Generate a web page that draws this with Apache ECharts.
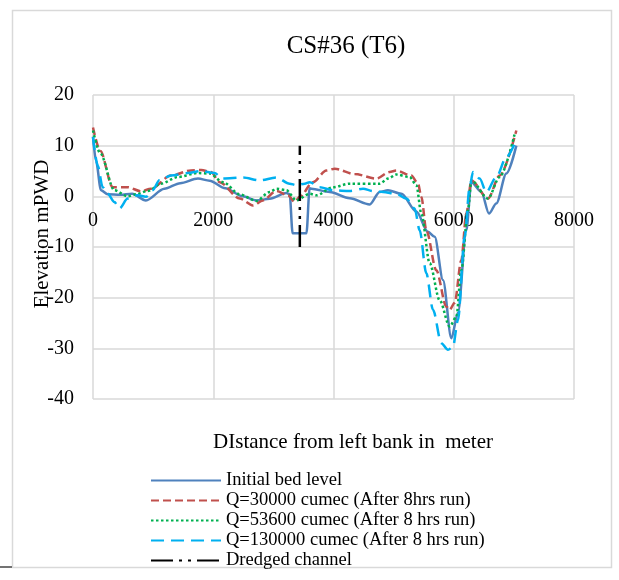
<!DOCTYPE html>
<html>
<head>
<meta charset="utf-8">
<script src="https://cdn.jsdelivr.net/npm/echarts@6/dist/echarts.min.js"></script>
<style>html,body{margin:0;padding:0;background:#fff}#c{width:619px;height:580px}</style>
</head>
<body>
<div id="c"></div>
<script>
var seriesNames = ['Initial bed level','Q=30000 cumec (After 8hrs run)','Q=53600 cumec (After 8 hrs run)','Q=130000 cumec (After 8 hrs run)','Dredged channel'];

var initialX = [0, 50, 133, 245, 450, 650, 880, 1187, 1450, 1746, 1940, 2200, 2490, 2717, 2939, 3216, 3271, 3320, 3550, 3603, 3632, 3937, 4270, 4602, 4768, 4906, 5128, 5378, 5571, 5683, 5821, 5960, 6070, 6209, 6293, 6460, 6586, 6708, 6875, 7041];
var initialY = [11.8, 7, 1.2, 0.4, 0.3, 0.5, -0.8, 1.5, 2.6, 3.5, 3.1, 1.6, 0, -0.8, -0.5, 0.65, 0.4, -7.3, -7.3, 1.6, 1.5, 0.85, -0.4, -1.6, 0.85, 1.2, 0.5, -3.0, -7.0, -8.0, -16.5, -28, -23, -6.7, 2.8, 0.85, -3.4, -1.4, 4.5, 10];

var q30000X = [0, 120, 327, 577, 798, 965, 1297, 1630, 1800, 1962, 2107, 2440, 2661, 2827, 3050, 3243, 3354, 3437, 3659, 3881, 4020, 4350, 4713, 4934, 5045, 5295, 5406, 5461, 5544, 5710, 5877, 5932, 6015, 6126, 6209, 6293, 6569, 6763, 7041];
var q30000Y = [13.6, 9, 1.8, 1.8, 1.0, 1.5, 4.1, 5.1, 5.2, 4.8, 2.8, -0.45, -1.8, -0.8, 1.05, 0.2, -1.1, -0.1, 2.8, 5.1, 5.45, 4.4, 3.5, 4.8, 5.1, 4.1, 2.5, -0.1, -6.7, -14.6, -21.8, -22.4, -21, -12.6, -3.4, 3.15, -0.45, 4.1, 13];

var q53600X = [0, 120, 355, 577, 715, 910, 1131, 1408, 1741, 1940, 2162, 2440, 2717, 2939, 3050, 3216, 3382, 3604, 3715, 3992, 4270, 4768, 4906, 5045, 5267, 5378, 5461, 5600, 5766, 5932, 6043, 6126, 6237, 6293, 6569, 6763, 7013];
var q53600Y = [13, 8.5, 1.2, 0, 0.4, 1.05, 2.5, 3.8, 4.6, 4.5, 2.8, 0.4, -0.9, 0.85, 1.5, 1.2, -0.8, 0.5, 0.2, 1.8, 2.5, 2.5, 3.5, 4.3, 3.8, 2.2, -3.4, -13.2, -20.5, -25.7, -23.8, -14.6, -2.75, 3.15, -0.45, 3.8, 12.3];

var q130000X = [0, 80, 161, 245, 355, 439, 577, 743, 881, 993, 1104, 1297, 1575, 1796, 2018, 2162, 2494, 2772, 3050, 3271, 3382, 3521, 3604, 3770, 3992, 4270, 4491, 4657, 4823, 5045, 5212, 5350, 5433, 5544, 5655, 5794, 5904, 5987, 6070, 6181, 6265, 6320, 6431, 6542, 6708, 6875, 7013];
var q130000Y = [11.7, 6, 1.8, 0.5, -1.1, -2.4, -0.45, 0.2, -0.1, 1.2, 3.15, 4.1, 4.6, 5, 4.6, 3.5, 3.7, 3.15, 3.7, 2.5, 2.2, 2.5, 2.8, 1.8, 1.2, 1.05, 1.5, 1.05, 0.85, 0.5, -0.45, -2.4, -6.7, -15.2, -22.4, -29, -30.3, -29.7, -24.4, -8.0, 1.8, 4.8, 3.5, 0.85, 3.8, 7.7, 10.4];

var dredgedX = [3440, 3440];
var dredgedY = [-10, 10];

var xTicks = [0, 2000, 4000, 6000, 8000];
var yTicks = [-40, -30, -20, -10, 0, 10, 20];

function pairs(xs, ys) { return xs.map(function (x, i) { return [x, ys[i]]; }); }

var FONT = '"Liberation Serif", "Times New Roman", serif';
var chart = echarts.init(document.getElementById('c'), null, { renderer: 'canvas' });

var gridTop = 95, gridBottom = 181, H = 580;
var plotH = H - gridTop - gridBottom;
var yMin = yTicks[0], yMax = yTicks[yTicks.length - 1];
var zeroFromBottom = (0 - yMin) / (yMax - yMin) * plotH;

function lineSeries(name, data, color, type, width, smooth) {
  return {
    name: name, type: 'line', data: data, symbol: 'none', showSymbol: false,
    smooth: smooth, smoothMonotone: 'x', animation: false,
    lineStyle: { color: color, width: width, type: type, cap: 'butt' },
    itemStyle: { color: color, opacity: 0 },
    emphasis: { disabled: true }
  };
}

chart.setOption({
  backgroundColor: '#fff',
  animation: false,
  grid: { left: 93, right: 45, top: gridTop, bottom: gridBottom, containLabel: false },
  xAxis: {
    type: 'value', min: xTicks[0], max: xTicks[xTicks.length - 1], interval: 2000,
    offset: -zeroFromBottom,
    axisLine: { show: false, onZero: false },
    axisTick: { show: false },
    axisLabel: { color: '#000', fontFamily: FONT, fontSize: 20, margin: 14, formatter: function (v) { return String(v); } },
    splitLine: { show: true, lineStyle: { color: '#d9d9d9', width: 1.5 } }
  },
  yAxis: {
    type: 'value', min: yMin, max: yMax, interval: 10,
    axisLine: { show: false },
    axisTick: { show: false },
    axisLabel: { color: '#000', fontFamily: FONT, fontSize: 20, margin: 19, formatter: function (v) { return String(v); } },
    splitLine: { show: true, lineStyle: { color: '#d9d9d9', width: 1.5 } }
  },
  legend: {
    orient: 'vertical', left: 150, top: 471, padding: 0, itemWidth: 70, itemHeight: 14, itemGap: 1,
    selectedMode: false,
    itemStyle: { opacity: 0 },
    textStyle: { color: '#000', fontFamily: FONT, fontSize: 18.5 },
    data: seriesNames
  },
  graphic: [
    { type: 'rect', shape: { x: 12.5, y: 10.5, width: 599, height: 557 }, style: { fill: 'none', stroke: '#d9d9d9', lineWidth: 1.5 }, silent: true, z: -10 },
    { type: 'line', shape: { x1: 0, y1: 567, x2: 12, y2: 567 }, style: { stroke: '#444', lineWidth: 1.5 }, silent: true },
    { type: 'text', x: 346, y: 46, style: { text: 'CS#36 (T6)', font: '25px ' + FONT, fill: '#000', textAlign: 'center', textVerticalAlign: 'middle' }, silent: true },
    { type: 'text', x: 353, y: 442, style: { text: 'DIstance from left bank in  meter', font: '21px ' + FONT, fill: '#000', textAlign: 'center', textVerticalAlign: 'middle' }, silent: true },
    { type: 'text', x: 42, y: 234, rotation: Math.PI / 2, style: { text: 'Elevation mPWD', font: '21px ' + FONT, fill: '#000', textAlign: 'center', textVerticalAlign: 'middle' }, silent: true }
  ],
  series: [
    lineSeries(seriesNames[0], pairs(initialX, initialY), '#4F81BD', 'solid', 2.5, 0.3),
    lineSeries(seriesNames[1], pairs(q30000X, q30000Y), '#C0504D', [8, 4], 2.5, 0.3),
    lineSeries(seriesNames[2], pairs(q53600X, q53600Y), '#00B050', [2.5, 2.5], 2.5, 0.3),
    lineSeries(seriesNames[3], pairs(q130000X, q130000Y), '#00B0F0', [13, 7], 2.5, 0.3),
    lineSeries(seriesNames[4], pairs(dredgedX, dredgedY), '#000', [22, 6, 3, 6, 3, 6], 2.5, false)
  ]
});
</script>
</body>
</html>
